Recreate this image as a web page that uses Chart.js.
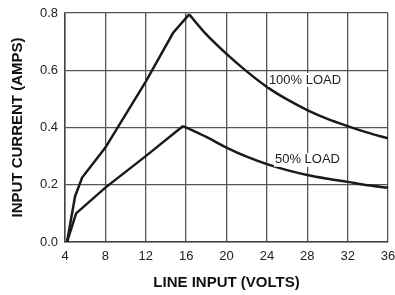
<!DOCTYPE html>
<html>
<head>
<meta charset="utf-8">
<script src="https://cdn.jsdelivr.net/npm/chart.js@4"></script>
<style>
  body { margin: 0; background: #fff; }
  #wrap { width: 395px; height: 295px; }
</style>
</head>
<body>
<div id="wrap"><canvas id="grafico"></canvas></div>
<script>
// Dados (subida e descida de cada curva)
const voltsUp100 = [4.2, 5, 5.7, 8, 12, 14.7, 16.3];
const ampsUp100 = [0, 0.16, 0.225, 0.33, 0.56, 0.73, 0.795];
const voltsDown100 = [16.3, 18, 20, 22, 24, 26, 28, 30, 32, 34, 36];
const ampsDown100 = [0.795, 0.725, 0.657, 0.596, 0.542, 0.498, 0.461, 0.43, 0.405, 0.382, 0.362];
const voltsUp50 = [4.2, 5.1, 8, 12, 15.7];
const ampsUp50 = [0, 0.10, 0.19, 0.30, 0.405];
const voltsDown50 = [15.7, 18, 20, 22, 24, 26, 28, 30, 32, 34, 36];
const ampsDown50 = [0.405, 0.367, 0.33, 0.298, 0.272, 0.251, 0.234, 0.221, 0.21, 0.198, 0.19];
const xTicks = [4, 8, 12, 16, 20, 24, 28, 32, 36];
const yTicks = [0, 0.2, 0.4, 0.6, 0.8];
const seriesLabels = ['100% LOAD', '50% LOAD'];
// posição dos rótulos em coordenadas de dados
const labelPos = [[24.2, 0.566], [24.8, 0.287]];

const FONT = '"Liberation Sans", Arial, sans-serif';
const toPoints = (xs, ys) => xs.map((x, i) => ({ x: x, y: ys[i] }));

// Plugin simples para escrever os rótulos das curvas (com fundo branco)
const curveLabels = {
    id: 'curveLabels',
    afterDatasetsDraw(chart) {
        const ctx = chart.ctx;
        const xs = chart.scales.x;
        const ys = chart.scales.y;
        ctx.save();
        ctx.font = '13px ' + FONT;
        ctx.textAlign = 'left';
        ctx.textBaseline = 'middle';
        seriesLabels.forEach((txt, i) => {
            const px = xs.getPixelForValue(labelPos[i][0]);
            const py = ys.getPixelForValue(labelPos[i][1]);
            const w = ctx.measureText(txt).width;
            ctx.fillStyle = '#fff';
            ctx.fillRect(px - 1, py - 7, w + 2, 14);
            ctx.fillStyle = '#222';
            ctx.fillText(txt, px, py);
        });
        ctx.restore();
    }
};

function linha(label, xs, ys, curva) {
    return {
        label: label,
        data: toPoints(xs, ys),
        borderColor: '#1a1a1a',
        borderWidth: 2.5,
        pointRadius: 0,
        tension: curva ? 0.4 : 0,
        cubicInterpolationMode: curva ? 'monotone' : 'default'
    };
}

const ctx = document.getElementById('grafico');
const chart = new Chart(ctx, {
    type: 'line',
    data: {
        datasets: [
            linha(seriesLabels[0], voltsUp100, ampsUp100, false),
            linha(seriesLabels[0], voltsDown100, ampsDown100, true),
            linha(seriesLabels[1], voltsUp50, ampsUp50, false),
            linha(seriesLabels[1], voltsDown50, ampsDown50, true)
        ]
    },
    options: {
        responsive: true,
        maintainAspectRatio: false,
        animation: false,
        layout: { padding: { top: 13, right: 0, left: 0, bottom: 0 } },
        plugins: {
            legend: { display: false },
            tooltip: { enabled: false }
        },
        scales: {
            x: {
                type: 'linear',
                min: 4,
                max: 36,
                afterBuildTicks: (s) => { s.ticks = xTicks.map(v => ({ value: v })); },
                afterFit: (s) => {
                    s.height = 53;
                    s.paddingLeft = 0;
                    s.paddingRight = 7;
                },
                grid: { color: '#555', lineWidth: 1.3, drawTicks: false },
                border: { color: '#444', width: 1.5 },
                ticks: {
                    color: '#222',
                    padding: 7,
                    maxRotation: 0,
                    font: { family: FONT, size: 13 }
                },
                title: {
                    display: true,
                    text: 'LINE INPUT (VOLTS)',
                    color: '#111',
                    padding: { top: 0, bottom: 3 },
                    font: { family: FONT, size: 15, weight: 'bold' }
                }
            },
            y: {
                min: 0,
                max: 0.8,
                afterBuildTicks: (s) => { s.ticks = yTicks.map(v => ({ value: v })); },
                afterFit: (s) => {
                    s.width = 65;
                    s.paddingTop = 0;
                    s.paddingBottom = 0;
                },
                grid: { color: '#555', lineWidth: 1.3, drawTicks: false },
                border: { color: '#444', width: 1.5 },
                ticks: {
                    color: '#222',
                    padding: 7,
                    callback: (v) => v.toFixed(1),
                    font: { family: FONT, size: 13 }
                },
                title: {
                    display: true,
                    text: 'INPUT CURRENT (AMPS)',
                    color: '#111',
                    padding: { top: 9, bottom: 0 },
                    font: { family: FONT, size: 15, weight: 'bold' }
                }
            }
        }
    },
    plugins: [curveLabels]
});
</script>
</body>
</html>
